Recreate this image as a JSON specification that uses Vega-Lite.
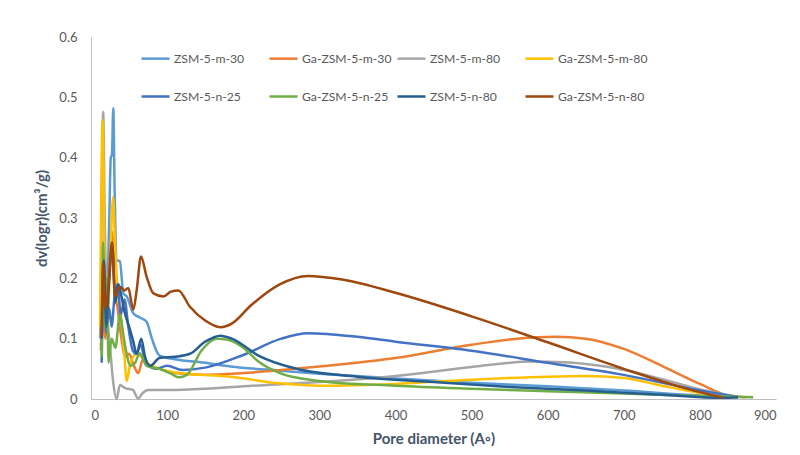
{
  "$schema": "https://vega.github.io/schema/vega-lite/v6.json",
  "autosize": {"type": "none"},
  "width": 685,
  "height": 362,
  "padding": {"left": 91, "top": 37, "right": 24, "bottom": 56},
  "background": "white",
  "config": {
    "view": {"stroke": null},
    "font": "Lato",
    "axis": {"grid": false, "ticks": false, "domainColor": "#BFBFBF", "domainWidth": 1, "labelColor": "#595959", "labelFontSize": 13, "labelFont": "Lato", "titleColor": "#44546A", "titleFontSize": 15, "titleFontWeight": "bold", "titleFont": "Lato"}
  },
  "data": {"values": [
    {"s":"ZSM-5-m-30","x":13,"y":0.09},{"s":"ZSM-5-m-30","x":17,"y":0.13},{"s":"ZSM-5-m-30","x":21,"y":0.16},{"s":"ZSM-5-m-30","x":24,"y":0.3},{"s":"ZSM-5-m-30","x":26,"y":0.4},{"s":"ZSM-5-m-30","x":27.5,"y":0.405},{"s":"ZSM-5-m-30","x":29.3,"y":0.482},{"s":"ZSM-5-m-30","x":31,"y":0.35},{"s":"ZSM-5-m-30","x":33.7,"y":0.23},{"s":"ZSM-5-m-30","x":38,"y":0.228},{"s":"ZSM-5-m-30","x":42.5,"y":0.175},{"s":"ZSM-5-m-30","x":47,"y":0.17},{"s":"ZSM-5-m-30","x":55.6,"y":0.142},{"s":"ZSM-5-m-30","x":64,"y":0.135},{"s":"ZSM-5-m-30","x":73,"y":0.128},{"s":"ZSM-5-m-30","x":80,"y":0.1},{"s":"ZSM-5-m-30","x":90,"y":0.072},{"s":"ZSM-5-m-30","x":110,"y":0.066},{"s":"ZSM-5-m-30","x":150,"y":0.06},{"s":"ZSM-5-m-30","x":183,"y":0.054},{"s":"ZSM-5-m-30","x":248,"y":0.047},{"s":"ZSM-5-m-30","x":300,"y":0.042},{"s":"ZSM-5-m-30","x":400,"y":0.034},{"s":"ZSM-5-m-30","x":500,"y":0.027},{"s":"ZSM-5-m-30","x":600,"y":0.021},{"s":"ZSM-5-m-30","x":700,"y":0.014},{"s":"ZSM-5-m-30","x":800,"y":0.006},{"s":"ZSM-5-m-30","x":850,"y":0.003},

    {"s":"Ga-ZSM-5-m-30","x":13,"y":0.08},{"s":"Ga-ZSM-5-m-30","x":16,"y":0.17},{"s":"Ga-ZSM-5-m-30","x":19,"y":0.1},{"s":"Ga-ZSM-5-m-30","x":23,"y":0.2},{"s":"Ga-ZSM-5-m-30","x":28,"y":0.277},{"s":"Ga-ZSM-5-m-30","x":31,"y":0.18},{"s":"Ga-ZSM-5-m-30","x":35,"y":0.15},{"s":"Ga-ZSM-5-m-30","x":40,"y":0.1},{"s":"Ga-ZSM-5-m-30","x":45,"y":0.07},{"s":"Ga-ZSM-5-m-30","x":50,"y":0.075},{"s":"Ga-ZSM-5-m-30","x":55,"y":0.06},{"s":"Ga-ZSM-5-m-30","x":62,"y":0.043},{"s":"Ga-ZSM-5-m-30","x":68,"y":0.065},{"s":"Ga-ZSM-5-m-30","x":75,"y":0.055},{"s":"Ga-ZSM-5-m-30","x":90,"y":0.05},{"s":"Ga-ZSM-5-m-30","x":110,"y":0.043},{"s":"Ga-ZSM-5-m-30","x":150,"y":0.04},{"s":"Ga-ZSM-5-m-30","x":200,"y":0.043},{"s":"Ga-ZSM-5-m-30","x":250,"y":0.048},{"s":"Ga-ZSM-5-m-30","x":300,"y":0.054},{"s":"Ga-ZSM-5-m-30","x":400,"y":0.068},{"s":"Ga-ZSM-5-m-30","x":500,"y":0.09},{"s":"Ga-ZSM-5-m-30","x":560,"y":0.1},{"s":"Ga-ZSM-5-m-30","x":610,"y":0.103},{"s":"Ga-ZSM-5-m-30","x":650,"y":0.1},{"s":"Ga-ZSM-5-m-30","x":700,"y":0.083},{"s":"Ga-ZSM-5-m-30","x":750,"y":0.055},{"s":"Ga-ZSM-5-m-30","x":800,"y":0.025},{"s":"Ga-ZSM-5-m-30","x":840,"y":0.005},{"s":"Ga-ZSM-5-m-30","x":860,"y":0.003},

    {"s":"ZSM-5-m-80","x":12,"y":0.1},{"s":"ZSM-5-m-80","x":14,"y":0.3},{"s":"ZSM-5-m-80","x":16,"y":0.476},{"s":"ZSM-5-m-80","x":18,"y":0.3},{"s":"ZSM-5-m-80","x":21,"y":0.15},{"s":"ZSM-5-m-80","x":25,"y":0.087},{"s":"ZSM-5-m-80","x":29,"y":0.03},{"s":"ZSM-5-m-80","x":33.7,"y":0.0},{"s":"ZSM-5-m-80","x":38,"y":0.023},{"s":"ZSM-5-m-80","x":45,"y":0.018},{"s":"ZSM-5-m-80","x":55,"y":0.015},{"s":"ZSM-5-m-80","x":62,"y":0.001},{"s":"ZSM-5-m-80","x":68,"y":0.01},{"s":"ZSM-5-m-80","x":75,"y":0.015},{"s":"ZSM-5-m-80","x":100,"y":0.015},{"s":"ZSM-5-m-80","x":150,"y":0.017},{"s":"ZSM-5-m-80","x":200,"y":0.021},{"s":"ZSM-5-m-80","x":300,"y":0.028},{"s":"ZSM-5-m-80","x":400,"y":0.038},{"s":"ZSM-5-m-80","x":500,"y":0.053},{"s":"ZSM-5-m-80","x":580,"y":0.062},{"s":"ZSM-5-m-80","x":620,"y":0.061},{"s":"ZSM-5-m-80","x":680,"y":0.053},{"s":"ZSM-5-m-80","x":750,"y":0.033},{"s":"ZSM-5-m-80","x":800,"y":0.016},{"s":"ZSM-5-m-80","x":850,"y":0.004},

    {"s":"Ga-ZSM-5-m-80","x":12,"y":0.12},{"s":"Ga-ZSM-5-m-80","x":15.3,"y":0.462},{"s":"Ga-ZSM-5-m-80","x":18,"y":0.2},{"s":"Ga-ZSM-5-m-80","x":21,"y":0.12},{"s":"Ga-ZSM-5-m-80","x":25,"y":0.22},{"s":"Ga-ZSM-5-m-80","x":29,"y":0.335},{"s":"Ga-ZSM-5-m-80","x":31.5,"y":0.26},{"s":"Ga-ZSM-5-m-80","x":34,"y":0.197},{"s":"Ga-ZSM-5-m-80","x":40,"y":0.13},{"s":"Ga-ZSM-5-m-80","x":44,"y":0.07},{"s":"Ga-ZSM-5-m-80","x":47,"y":0.03},{"s":"Ga-ZSM-5-m-80","x":51,"y":0.055},{"s":"Ga-ZSM-5-m-80","x":60,"y":0.075},{"s":"Ga-ZSM-5-m-80","x":73,"y":0.06},{"s":"Ga-ZSM-5-m-80","x":90,"y":0.05},{"s":"Ga-ZSM-5-m-80","x":117,"y":0.043},{"s":"Ga-ZSM-5-m-80","x":183,"y":0.037},{"s":"Ga-ZSM-5-m-80","x":248,"y":0.026},{"s":"Ga-ZSM-5-m-80","x":300,"y":0.022},{"s":"Ga-ZSM-5-m-80","x":400,"y":0.025},{"s":"Ga-ZSM-5-m-80","x":500,"y":0.032},{"s":"Ga-ZSM-5-m-80","x":600,"y":0.037},{"s":"Ga-ZSM-5-m-80","x":650,"y":0.038},{"s":"Ga-ZSM-5-m-80","x":700,"y":0.035},{"s":"Ga-ZSM-5-m-80","x":750,"y":0.022},{"s":"Ga-ZSM-5-m-80","x":800,"y":0.01},{"s":"Ga-ZSM-5-m-80","x":850,"y":0.003},

    {"s":"ZSM-5-n-25","x":14,"y":0.06},{"s":"ZSM-5-n-25","x":17,"y":0.2},{"s":"ZSM-5-n-25","x":20,"y":0.11},{"s":"ZSM-5-n-25","x":24,"y":0.15},{"s":"ZSM-5-n-25","x":27,"y":0.12},{"s":"ZSM-5-n-25","x":31,"y":0.17},{"s":"ZSM-5-n-25","x":35,"y":0.19},{"s":"ZSM-5-n-25","x":39,"y":0.14},{"s":"ZSM-5-n-25","x":44,"y":0.165},{"s":"ZSM-5-n-25","x":49,"y":0.12},{"s":"ZSM-5-n-25","x":55,"y":0.08},{"s":"ZSM-5-n-25","x":60,"y":0.075},{"s":"ZSM-5-n-25","x":65,"y":0.09},{"s":"ZSM-5-n-25","x":72,"y":0.06},{"s":"ZSM-5-n-25","x":85,"y":0.05},{"s":"ZSM-5-n-25","x":100,"y":0.055},{"s":"ZSM-5-n-25","x":120,"y":0.048},{"s":"ZSM-5-n-25","x":150,"y":0.052},{"s":"ZSM-5-n-25","x":200,"y":0.073},{"s":"ZSM-5-n-25","x":250,"y":0.1},{"s":"ZSM-5-n-25","x":285,"y":0.109},{"s":"ZSM-5-n-25","x":350,"y":0.103},{"s":"ZSM-5-n-25","x":400,"y":0.095},{"s":"ZSM-5-n-25","x":500,"y":0.08},{"s":"ZSM-5-n-25","x":600,"y":0.06},{"s":"ZSM-5-n-25","x":700,"y":0.04},{"s":"ZSM-5-n-25","x":800,"y":0.014},{"s":"ZSM-5-n-25","x":850,"y":0.003},

    {"s":"Ga-ZSM-5-n-25","x":14,"y":0.07},{"s":"Ga-ZSM-5-n-25","x":16,"y":0.26},{"s":"Ga-ZSM-5-n-25","x":18,"y":0.12},{"s":"Ga-ZSM-5-n-25","x":21,"y":0.2},{"s":"Ga-ZSM-5-n-25","x":23,"y":0.06},{"s":"Ga-ZSM-5-n-25","x":27,"y":0.1},{"s":"Ga-ZSM-5-n-25","x":32,"y":0.085},{"s":"Ga-ZSM-5-n-25","x":38,"y":0.14},{"s":"Ga-ZSM-5-n-25","x":42,"y":0.11},{"s":"Ga-ZSM-5-n-25","x":46,"y":0.08},{"s":"Ga-ZSM-5-n-25","x":52,"y":0.055},{"s":"Ga-ZSM-5-n-25","x":58,"y":0.06},{"s":"Ga-ZSM-5-n-25","x":64,"y":0.076},{"s":"Ga-ZSM-5-n-25","x":73,"y":0.055},{"s":"Ga-ZSM-5-n-25","x":90,"y":0.05},{"s":"Ga-ZSM-5-n-25","x":105,"y":0.042},{"s":"Ga-ZSM-5-n-25","x":115,"y":0.036},{"s":"Ga-ZSM-5-n-25","x":126,"y":0.04},{"s":"Ga-ZSM-5-n-25","x":145,"y":0.08},{"s":"Ga-ZSM-5-n-25","x":165,"y":0.1},{"s":"Ga-ZSM-5-n-25","x":180,"y":0.098},{"s":"Ga-ZSM-5-n-25","x":200,"y":0.085},{"s":"Ga-ZSM-5-n-25","x":220,"y":0.062},{"s":"Ga-ZSM-5-n-25","x":250,"y":0.042},{"s":"Ga-ZSM-5-n-25","x":300,"y":0.03},{"s":"Ga-ZSM-5-n-25","x":400,"y":0.022},{"s":"Ga-ZSM-5-n-25","x":500,"y":0.017},{"s":"Ga-ZSM-5-n-25","x":600,"y":0.013},{"s":"Ga-ZSM-5-n-25","x":700,"y":0.009},{"s":"Ga-ZSM-5-n-25","x":800,"y":0.005},{"s":"Ga-ZSM-5-n-25","x":870,"y":0.003},

    {"s":"ZSM-5-n-80","x":14,"y":0.1},{"s":"ZSM-5-n-80","x":17,"y":0.23},{"s":"ZSM-5-n-80","x":20,"y":0.12},{"s":"ZSM-5-n-80","x":24,"y":0.2},{"s":"ZSM-5-n-80","x":28,"y":0.255},{"s":"ZSM-5-n-80","x":32,"y":0.16},{"s":"ZSM-5-n-80","x":36,"y":0.19},{"s":"ZSM-5-n-80","x":40,"y":0.17},{"s":"ZSM-5-n-80","x":45,"y":0.14},{"s":"ZSM-5-n-80","x":50,"y":0.12},{"s":"ZSM-5-n-80","x":55,"y":0.098},{"s":"ZSM-5-n-80","x":60,"y":0.075},{"s":"ZSM-5-n-80","x":66,"y":0.1},{"s":"ZSM-5-n-80","x":71,"y":0.07},{"s":"ZSM-5-n-80","x":78,"y":0.055},{"s":"ZSM-5-n-80","x":90,"y":0.068},{"s":"ZSM-5-n-80","x":110,"y":0.07},{"s":"ZSM-5-n-80","x":130,"y":0.075},{"s":"ZSM-5-n-80","x":150,"y":0.095},{"s":"ZSM-5-n-80","x":170,"y":0.105},{"s":"ZSM-5-n-80","x":185,"y":0.1},{"s":"ZSM-5-n-80","x":220,"y":0.072},{"s":"ZSM-5-n-80","x":270,"y":0.05},{"s":"ZSM-5-n-80","x":350,"y":0.037},{"s":"ZSM-5-n-80","x":450,"y":0.028},{"s":"ZSM-5-n-80","x":550,"y":0.02},{"s":"ZSM-5-n-80","x":650,"y":0.014},{"s":"ZSM-5-n-80","x":750,"y":0.007},{"s":"ZSM-5-n-80","x":830,"y":0.002},{"s":"ZSM-5-n-80","x":850,"y":0.003},

    {"s":"Ga-ZSM-5-n-80","x":14,"y":0.103},{"s":"Ga-ZSM-5-n-80","x":16,"y":0.225},{"s":"Ga-ZSM-5-n-80","x":18.7,"y":0.15},{"s":"Ga-ZSM-5-n-80","x":22.8,"y":0.186},{"s":"Ga-ZSM-5-n-80","x":27.6,"y":0.26},{"s":"Ga-ZSM-5-n-80","x":31.5,"y":0.17},{"s":"Ga-ZSM-5-n-80","x":38,"y":0.186},{"s":"Ga-ZSM-5-n-80","x":44,"y":0.18},{"s":"Ga-ZSM-5-n-80","x":49,"y":0.184},{"s":"Ga-ZSM-5-n-80","x":55.6,"y":0.148},{"s":"Ga-ZSM-5-n-80","x":60,"y":0.18},{"s":"Ga-ZSM-5-n-80","x":65.7,"y":0.236},{"s":"Ga-ZSM-5-n-80","x":73,"y":0.203},{"s":"Ga-ZSM-5-n-80","x":82,"y":0.175},{"s":"Ga-ZSM-5-n-80","x":95,"y":0.17},{"s":"Ga-ZSM-5-n-80","x":105,"y":0.178},{"s":"Ga-ZSM-5-n-80","x":114.7,"y":0.18},{"s":"Ga-ZSM-5-n-80","x":130,"y":0.153},{"s":"Ga-ZSM-5-n-80","x":150,"y":0.13},{"s":"Ga-ZSM-5-n-80","x":170,"y":0.119},{"s":"Ga-ZSM-5-n-80","x":185,"y":0.125},{"s":"Ga-ZSM-5-n-80","x":210,"y":0.155},{"s":"Ga-ZSM-5-n-80","x":248,"y":0.19},{"s":"Ga-ZSM-5-n-80","x":285,"y":0.204},{"s":"Ga-ZSM-5-n-80","x":330,"y":0.198},{"s":"Ga-ZSM-5-n-80","x":400,"y":0.176},{"s":"Ga-ZSM-5-n-80","x":500,"y":0.137},{"s":"Ga-ZSM-5-n-80","x":600,"y":0.094},{"s":"Ga-ZSM-5-n-80","x":700,"y":0.05},{"s":"Ga-ZSM-5-n-80","x":780,"y":0.018},{"s":"Ga-ZSM-5-n-80","x":830,"y":0.002}
  ]},
  "mark": {"type": "line", "interpolate": "monotone", "strokeWidth": 2.5},
  "encoding": {
    "x": {"field": "x", "type": "quantitative", "scale": {"domain": [0, 900], "nice": false}, "axis": {"values": [0,100,200,300,400,500,600,700,800,900], "labelPadding": 10, "title": "Pore diameter (A◦)", "titlePadding": 9}},
    "y": {"field": "y", "type": "quantitative", "scale": {"domain": [0, 0.6], "nice": false}, "axis": {"values": [0,0.1,0.2,0.3,0.4,0.5,0.6], "format": "~g", "labelPadding": 14, "title": "dv(logr)(cm³/g)", "titlePadding": 9}},
    "color": {"field": "s", "type": "nominal", "sort": null,
      "scale": {"domain": ["ZSM-5-m-30","Ga-ZSM-5-m-30","ZSM-5-m-80","Ga-ZSM-5-m-80","ZSM-5-n-25","Ga-ZSM-5-n-25","ZSM-5-n-80","Ga-ZSM-5-n-80"],
                "range": ["#5B9BD5","#ED7D31","#A5A5A5","#FFC000","#4472C4","#70AD47","#255E91","#9E480E"]},
      "legend": {"title": null, "orient": "none", "legendX": 49, "legendY": 6, "columns": 4, "direction": "horizontal", "gridAlign": "all", "columnPadding": 0, "rowPadding": 16, "symbolType": "stroke", "symbolSize": 784, "symbolStrokeWidth": 2.5, "labelFontSize": 12.2, "labelColor": "#595959", "labelFont": "Lato", "labelOffset": 3, "padding": 0, "labelLimit": 200}
    },
    "order": {"field": "x", "type": "quantitative"}
  }
}
